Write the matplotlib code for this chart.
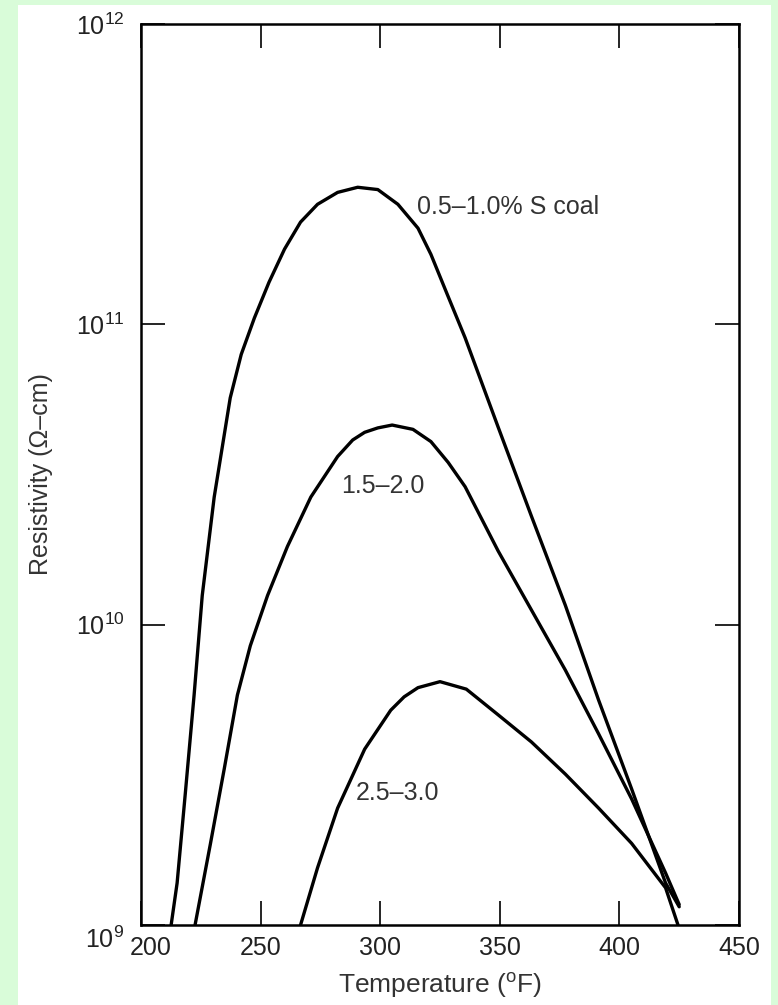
import numpy as np
import matplotlib.pyplot as plt
from matplotlib.patches import Rectangle
from matplotlib.ticker import FixedLocator, FuncFormatter
import matplotlib.transforms as mtransforms

plt.rcParams['font.family'] = ['Liberation Sans', 'DejaVu Sans']
plt.rcParams['mathtext.fontset'] = 'custom'
plt.rcParams['mathtext.rm'] = 'Liberation Sans'
plt.rcParams['mathtext.it'] = 'Liberation Sans:italic'

# temperatures (F) and resistivities (ohm-cm)
temp_low_s = [212.6, 215.1, 218.5, 222.2, 225.6, 230.6, 237.3, 241.9, 247.4, 253.5, 260.0, 266.7,
              273.8, 282.2, 290.6, 299.0, 307.4, 315.8, 321.2, 328.0, 335.5, 349.3, 363.2, 377.4,
              391.3, 405.1, 419.3, 425.0]
res_low_s = [1.0e9, 1.38e9, 2.73e9, 5.83e9, 1.25e10, 2.66e10, 5.69e10, 7.94e10, 1.05e11, 1.38e11, 1.78e11, 2.19e11,
             2.51e11, 2.75e11, 2.86e11, 2.81e11, 2.51e11, 2.09e11, 1.71e11, 1.26e11, 9.02e10, 4.55e10, 2.30e10, 1.16e10,
             5.61e9, 2.84e9, 1.38e9, 1.15e9]

temp_mid_s = [222.6, 229.0, 234.8, 240.3, 245.7, 252.9, 261.2, 271.0, 282.2, 288.5, 293.5, 299.0,
              305.0, 313.7, 321.2, 328.4, 335.5, 349.3, 363.2, 377.4, 391.3, 405.1, 419.3, 425.0]
res_mid_s = [1.0e9, 1.86e9, 3.31e9, 5.83e9, 8.51e9, 1.25e10, 1.82e10, 2.66e10, 3.63e10, 4.12e10, 4.37e10, 4.52e10,
             4.62e10, 4.47e10, 4.07e10, 3.47e10, 2.88e10, 1.76e10, 1.12e10, 7.06e9, 4.33e9, 2.63e9, 1.49e9, 1.17e9]

temp_high_s = [266.7, 273.8, 282.2, 293.5, 304.4, 310.0, 315.8, 325.0, 336.0, 349.3, 363.2, 377.4,
               391.3, 405.1, 419.3, 424.5]
res_high_s = [1.0e9, 1.55e9, 2.45e9, 3.85e9, 5.19e9, 5.75e9, 6.17e9, 6.46e9, 6.10e9, 5.01e9, 4.07e9, 3.18e9,
              2.45e9, 1.87e9, 1.33e9, 1.0e9]

curve_labels = ['0.5\u20131.0% S coal', '1.5\u20132.0', '2.5\u20133.0']
label_pos = [(315.5, 2.45e11), (283.5, 2.9e10), (289.8, 2.75e9)]

x_ticks = [200, 250, 300, 350, 400, 450]
y_ticks = [1e9, 1e10, 1e11, 1e12]

fig = plt.figure(figsize=(7.78, 10.05), dpi=100)
fig.patch.set_facecolor('#d9fcd9')
# white page behind the plot
fig.patches.append(Rectangle((18 / 778, 0), (771 - 18) / 778, 1 - 5 / 1005,
                             transform=fig.transFigure, facecolor='white', edgecolor='none', zorder=-5))

ax = fig.add_axes([141 / 778, 1 - 925 / 1005, 598 / 778, 901 / 1005])
ax.set_facecolor('white')

for t, r in [(temp_low_s, res_low_s), (temp_mid_s, res_mid_s), (temp_high_s, res_high_s)]:
    ax.plot(t, r, color='black', lw=2.4, solid_joinstyle='round', solid_capstyle='round')

for txt, (tx, ty) in zip(curve_labels, label_pos):
    ax.text(tx, ty, txt, fontsize=18, color='#333333', ha='left', va='center')

ax.set_yscale('log')
ax.set_xlim(200, 450)
ax.set_ylim(1e9, 1e12)

ax.xaxis.set_major_locator(FixedLocator(x_ticks))
ax.yaxis.set_major_locator(FixedLocator(y_ticks))
ax.yaxis.set_minor_locator(FixedLocator([]))
ax.xaxis.set_major_formatter(FuncFormatter(lambda v, p: '%d' % v))
ax.yaxis.set_major_formatter(FuncFormatter(lambda v, p: r'$\mathregular{10^{%d}}$' % round(np.log10(v))))

ax.tick_params(which='major', direction='in', length=17, width=1.2, top=True, right=True,
               labelsize=18, labelcolor='#222222', pad=8)
ax.tick_params(axis='y', pad=12)

for s in ax.spines.values():
    s.set_linewidth(1.8)

# nudge the corner labels apart like the original
xl = ax.get_xticklabels()
xl[0].set_transform(xl[0].get_transform() + mtransforms.ScaledTranslation(10 / 100, 0, fig.dpi_scale_trans))
yl = ax.get_yticklabels()
yl[0].set_transform(yl[0].get_transform() + mtransforms.ScaledTranslation(0, -12 / 100, fig.dpi_scale_trans))

ax.set_xlabel('Temperature ($\\mathregular{^{o}}$F)', fontsize=19, color='#333333', labelpad=8)
ax.set_ylabel('Resistivity (\u03a9\u2013cm)', fontsize=18, color='#333333', labelpad=16)

fig.savefig('out.png', dpi=100, facecolor=fig.get_facecolor())
